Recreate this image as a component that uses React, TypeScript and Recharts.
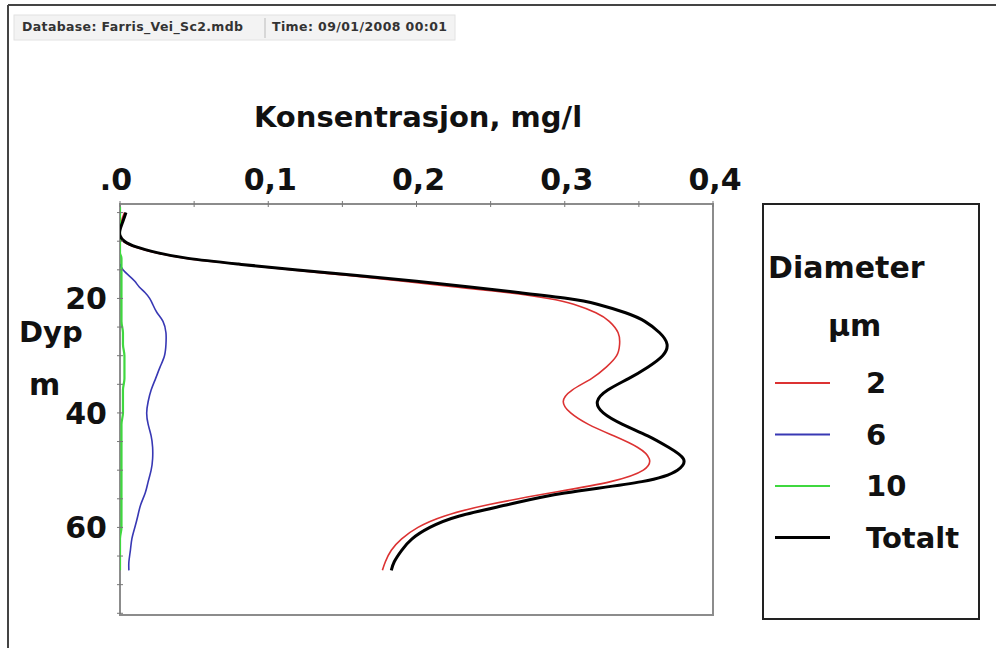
import React from "react";
import {
  LineChart,
  Line,
  XAxis,
  YAxis,
  Legend,
  ReferenceArea,
} from "recharts";

/* ── data ── */

const depth = [
  4, 5, 6.5, 8, 9, 10, 11, 12, 13, 14, 15, 16, 17, 18, 19, 20, 21, 22.5, 24, 26,
  28, 30, 32, 34, 36, 38, 40, 42, 44, 46, 48, 50, 52, 54, 56, 58, 60, 62, 64, 66,
  67.5,
];

// 2 µm
const conc2 = [
  null, 0.003, 0.001, 0.0, 0.0, 0.002, 0.01, 0.024, 0.045, 0.079, 0.115, 0.154,
  0.191, 0.226, 0.262, 0.289, 0.306, 0.321, 0.33, 0.336, 0.337, 0.335, 0.328,
  0.318, 0.305, 0.299, 0.304, 0.316, 0.333, 0.349, 0.357, 0.353, 0.331, 0.29,
  0.249, 0.219, 0.201, 0.19, 0.183, 0.179, 0.177,
];

// 6 µm
const conc6 = [
  null, null, null, null, null, null, null, null, null, 0.0, 0.002, 0.006, 0.01,
  0.013, 0.017, 0.02, 0.022, 0.025, 0.029, 0.031, 0.031, 0.03, 0.027, 0.024,
  0.021, 0.019, 0.018, 0.019, 0.021, 0.022, 0.022, 0.021, 0.019, 0.017, 0.014,
  0.012, 0.01, 0.008, 0.007, 0.006, 0.006,
];

// 10 µm
const conc10 = [
  0.0, 0.0, 0.0, 0.0, 0.0, 0.0, 0.0, 0.0, 0.001, 0.001, 0.001, 0.001, 0.001,
  0.001, 0.001, 0.001, 0.001, 0.001, 0.001, 0.002, 0.002, 0.003, 0.003, 0.003,
  0.002, 0.002, 0.002, 0.001, 0.001, 0.001, 0.001, 0.001, 0.001, 0.001, 0.001,
  0.001, 0.001, 0.0, 0.0, 0.0, 0.0,
];

// Totalt
const concTotal = [
  null, 0.004, 0.002, 0.0, 0.0, 0.003, 0.011, 0.025, 0.046, 0.08, 0.118, 0.16,
  0.2, 0.236, 0.27, 0.302, 0.322, 0.341, 0.354, 0.364, 0.369, 0.366, 0.356,
  0.343, 0.329, 0.322, 0.326, 0.339, 0.356, 0.37, 0.38, 0.376, 0.352, 0.3,
  0.262, 0.229, 0.209, 0.197, 0.19, 0.185, 0.183,
];

const xTicks = [0, 0.05, 0.1, 0.15, 0.2, 0.25, 0.3, 0.35, 0.4];
const xTickLabels: Record<string, string> = {
  "0.00": ".0",
  "0.10": "0,1",
  "0.20": "0,2",
  "0.30": "0,3",
  "0.40": "0,4",
};
const depthTicks = [5, 10, 15, 20, 25, 30, 35, 40, 45, 50, 55, 60, 65, 70, 75];
const depthLabels = [20, 40, 60];

const SERIES = [
  { key: "c2", name: "2", color: "#dc3232", width: 1.6, curve: "natural" },
  { key: "c6", name: "6", color: "#3838b4", width: 1.6, curve: "natural" },
  { key: "c10", name: "10", color: "#3fd83f", width: 2.2, curve: "monotone" },
  { key: "total", name: "Totalt", color: "#000000", width: 3, curve: "natural" },
];

const rows = depth.map((d, i) => ({
  depth: d,
  c2: conc2[i],
  c6: conc6[i],
  c10: conc10[i],
  total: concTotal[i],
}));

const FONT = "'DejaVu Sans', sans-serif";
const TEXT = "#111";

function XTick(props: any) {
  const { x, y, payload } = props;
  const label = xTickLabels[Number(payload.value).toFixed(2)];
  return (
    <g>
      <line x1={x} x2={x} y1={y + 11} y2={y + 17} stroke="#777" />
      {label && (
        <text
          x={label === ".0" ? x - 4 : x + 2}
          y={y}
          textAnchor="middle"
          fontFamily={FONT}
          fontWeight="bold"
          fontSize={30}
          fill={TEXT}
        >
          {label}
        </text>
      )}
    </g>
  );
}

function YTick(props: any) {
  const { x, y, payload } = props;
  const show = depthLabels.includes(payload.value);
  return (
    <g>
      <line x1={x + 10} x2={x + 16} y1={y} y2={y} stroke="#777" />
      {show && (
        <text
          x={x}
          y={y}
          dy="0.36em"
          textAnchor="end"
          fontFamily={FONT}
          fontWeight="bold"
          fontSize={30}
          fill={TEXT}
        >
          {payload.value}
        </text>
      )}
    </g>
  );
}

function LegendBox(props: any) {
  const items = [...(props.payload ?? [])].sort(
    (a: any, b: any) =>
      SERIES.findIndex((s) => s.name === a.value) -
      SERIES.findIndex((s) => s.name === b.value)
  );
  return (
    <svg width={218} height={417} style={{ display: "block" }}>
      <rect x={1} y={1} width={216} height={415} fill="#fff" stroke="#222" strokeWidth={2} />
      <text x={6} y={75} fontFamily={FONT} fontWeight="bold" fontSize={30} fill={TEXT}>
        Diameter
      </text>
      <text x={66} y={133} fontFamily={FONT} fontWeight="bold" fontSize={30} fill={TEXT}>
        µm
      </text>
      {items.map((it: any, i: number) => (
        <g key={it.value}>
          <line
            x1={13}
            x2={68}
            y1={180 + i * 51.5}
            y2={180 + i * 51.5}
            stroke={it.color}
            strokeWidth={it.value === "Totalt" ? 3 : 2}
          />
          <text
            x={104}
            y={190 + i * 51.5}
            fontFamily={FONT}
            fontWeight="bold"
            fontSize={29}
            fill={TEXT}
          >
            {it.value}
          </text>
        </g>
      ))}
    </svg>
  );
}

export default function App() {
  return (
    <div
      style={{
        position: "absolute",
        left: 0,
        top: 0,
        width: 996,
        height: 648,
        background: "#fff",
        overflow: "hidden",
      }}
    >
      <svg
        width={996}
        height={648}
        style={{ position: "absolute", left: 0, top: 0 }}
      >
        <line x1={8} x2={996} y1={5} y2={5} stroke="#444" strokeWidth={2} />
        <line x1={8} x2={8} y1={5} y2={648} stroke="#444" strokeWidth={2} />
        <rect x={14} y={15} width={441} height={25} fill="#f3f3f3" stroke="#e2e2e2" />
        <line x1={265} x2={265} y1={18} y2={38} stroke="#bbb" />
        <text x={22} y={31} fontFamily={FONT} fontWeight="bold" fontSize={12.5} fill="#333" textLength={221}>
          Database: Farris_Vei_Sc2.mdb
        </text>
        <text x={272} y={31} fontFamily={FONT} fontWeight="bold" fontSize={12.5} fill="#333" textLength={175}>
          Time: 09/01/2008 00:01
        </text>
        <text x={418} y={127} textAnchor="middle" fontFamily={FONT} fontWeight="bold" fontSize={29} fill={TEXT}>
          Konsentrasjon, mg/l
        </text>
        <text x={19} y={342} fontFamily={FONT} fontWeight="bold" fontSize={29} fill={TEXT}>
          Dyp
        </text>
        <text x={29} y={395} fontFamily={FONT} fontWeight="bold" fontSize={30} fill={TEXT}>
          m
        </text>
      </svg>
      <div style={{ position: "absolute", left: 0, top: 0 }}>
        <LineChart
          width={996}
          height={648}
          data={rows}
          layout="vertical"
          margin={{ top: 174, left: 60, right: 283, bottom: 33 }}
        >
          <XAxis
            type="number"
            orientation="top"
            domain={[0, 0.4]}
            ticks={xTicks}
            height={30}
            axisLine={false}
            tickLine={false}
            tickSize={0}
            tickMargin={14}
            tick={<XTick />}
            allowDataOverflow
          />
          <YAxis
            type="number"
            dataKey="depth"
            domain={[3.5, 75.3]}
            ticks={depthTicks}
            width={60}
            axisLine={false}
            tickLine={false}
            tickSize={0}
            tickMargin={13}
            tick={<YTick />}
            allowDataOverflow
          />
          <ReferenceArea
            x1={0}
            x2={0.4}
            y1={3.5}
            y2={75.3}
            fill="none"
            fillOpacity={0}
            stroke="#8c8c8c"
            strokeWidth={2}
            ifOverflow="visible"
          />
          {SERIES.map((s) => (
            <Line
              key={s.key}
              dataKey={s.key}
              name={s.name}
              type={s.curve as any}
              stroke={s.color}
              strokeWidth={s.width}
              dot={false}
              activeDot={false}
              isAnimationActive={false}
            />
          ))}
          <Legend
            layout="vertical"
            align="center"
            verticalAlign="middle"
            content={<LegendBox />}
            wrapperStyle={{
              position: "absolute",
              left: 762,
              top: 203,
              width: 218,
              height: 417,
              margin: 0,
            }}
          />
        </LineChart>
      </div>
    </div>
  );
}
